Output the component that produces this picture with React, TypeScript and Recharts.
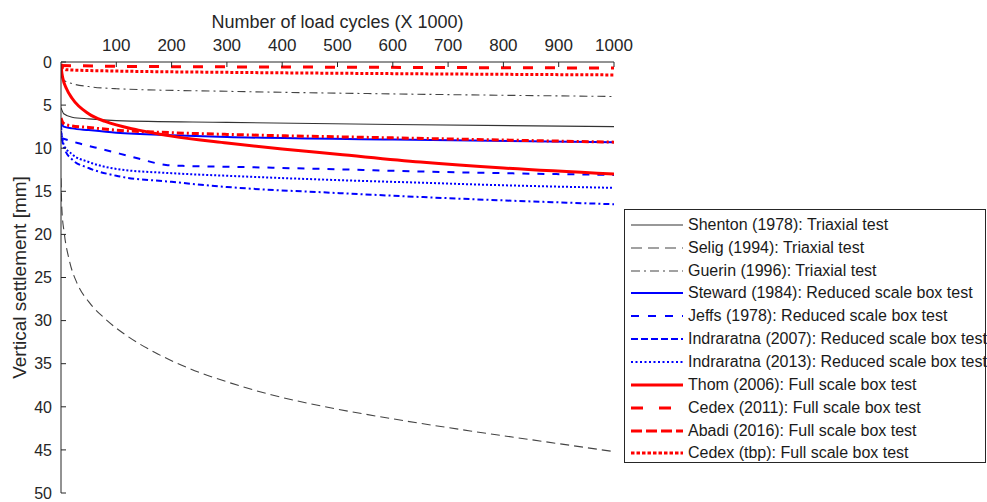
import React from 'react';
import { LineChart, Line, XAxis, YAxis, Legend } from 'recharts';

// Load cycles (x 1000) and vertical settlement (mm) for each study
const shentonCycles = [0, 5, 20, 50, 100, 300, 600, 1000];
const shentonSettlement = [5.3, 6.0, 6.4, 6.6, 6.8, 7.0, 7.25, 7.5];

const seligCycles = [0, 1.5, 6, 15, 30, 50, 80, 120, 170, 230, 300, 380, 470, 600, 740, 870, 1000];
const seligSettlement = [13.5, 17.0, 19.9, 23.0, 25.8, 27.8, 29.8, 31.8, 33.7, 35.5, 37.1, 38.6, 39.9, 41.4, 42.8, 44.0, 45.2];

const guerinCycles = [0, 5, 20, 50, 100, 300, 600, 1000];
const guerinSettlement = [1.6, 2.1, 2.5, 2.85, 3.1, 3.4, 3.7, 4.0];

const stewardCycles = [0, 5, 20, 50, 100, 200, 300, 600, 1000];
const stewardSettlement = [7.0, 7.5, 7.7, 7.9, 8.2, 8.5, 8.7, 9.0, 9.3];

const jeffsCycles = [0, 30, 80, 140, 190, 220, 300, 500, 650, 800, 1000];
const jeffsSettlement = [8.8, 9.4, 10.2, 11.2, 11.95, 12.05, 12.15, 12.45, 12.7, 12.9, 13.1];

const indraratna07Cycles = [0, 2, 6, 20, 50, 100, 200, 300, 500, 700, 1000];
const indraratna07Settlement = [7.2, 9.0, 10.0, 11.3, 12.3, 13.2, 13.9, 14.5, 15.2, 15.8, 16.5];

const indraratna13Cycles = [0, 5, 20, 50, 100, 200, 300, 500, 650, 800, 1000];
const indraratna13Settlement = [8.0, 9.6, 10.7, 11.6, 12.4, 12.9, 13.2, 13.7, 14.0, 14.3, 14.6];

const thomCycles = [0, 1, 3, 10, 20, 50, 80, 140, 200, 300, 400, 500, 650, 800, 1000];
const thomSettlement = [0.2, 1.0, 1.8, 3.1, 4.2, 6.0, 6.9, 7.9, 8.6, 9.4, 10.1, 10.7, 11.6, 12.3, 13.0];

const cedex11Cycles = [0, 100, 500, 1000];
const cedex11Settlement = [0.4, 0.5, 0.6, 0.7];

const abadiCycles = [0, 3, 10, 50, 100, 200, 300, 600, 1000];
const abadiSettlement = [6.5, 7.0, 7.3, 7.6, 7.9, 8.2, 8.4, 8.8, 9.3];

const cedexTbpCycles = [0, 10, 100, 300, 600, 1000];
const cedexTbpSettlement = [0.6, 0.9, 1.05, 1.2, 1.35, 1.5];

const xTicks = [100, 200, 300, 400, 500, 600, 700, 800, 900, 1000];
const yTicks = [0, 5, 10, 15, 20, 25, 30, 35, 40, 45, 50];

const toPoints = (cycles: number[], values: number[]) =>
  cycles.map((c, i) => ({ cycles: c, settlement: values[i] }));

const RED = '#ff0000';
const BLUE = '#0000ff';
const INK = '#262626';
const FONT = '"Liberation Sans", Arial, Helvetica, sans-serif';

const series = [
  { name: 'Shenton (1978): Triaxial test', data: toPoints(shentonCycles, shentonSettlement), color: '#333333', width: 1.1, dash: undefined, legendDash: undefined },
  { name: 'Selig (1994): Triaxial test', data: toPoints(seligCycles, seligSettlement), color: '#444444', width: 1.1, dash: '9 5', legendDash: '11 6' },
  { name: 'Guerin (1996): Triaxial test', data: toPoints(guerinCycles, guerinSettlement), color: '#444444', width: 1.1, dash: '8 4 2 4', legendDash: '9 4 2 4' },
  { name: 'Steward (1984): Reduced scale box test', data: toPoints(stewardCycles, stewardSettlement), color: BLUE, width: 2, dash: undefined, legendDash: undefined },
  { name: 'Jeffs (1978): Reduced scale box test', data: toPoints(jeffsCycles, jeffsSettlement), color: BLUE, width: 2, dash: '7 8', legendDash: '8 9' },
  { name: 'Indraratna (2007): Reduced scale box test', data: toPoints(indraratna07Cycles, indraratna07Settlement), color: BLUE, width: 2, dash: '6 3 2 3', legendDash: '7 3' },
  { name: 'Indraratna (2013): Reduced scale box test', data: toPoints(indraratna13Cycles, indraratna13Settlement), color: BLUE, width: 2, dash: '2 2', legendDash: '2 2.5' },
  { name: 'Thom (2006): Full scale box test', data: toPoints(thomCycles, thomSettlement), color: RED, width: 3, dash: undefined, legendDash: undefined },
  { name: 'Cedex (2011): Full scale box test', data: toPoints(cedex11Cycles, cedex11Settlement), color: RED, width: 3, dash: '10 12', legendDash: '12 16' },
  { name: 'Abadi (2016): Full scale box test', data: toPoints(abadiCycles, abadiSettlement), color: RED, width: 3, dash: '7 3 2 3', legendDash: '11 4' },
  { name: 'Cedex (tbp): Full scale box test', data: toPoints(cedexTbpCycles, cedexTbpSettlement), color: RED, width: 3, dash: '3 2', legendDash: '3.5 2' },
];

const PLOT_TOP = 62;
const PLOT_LEFT = 61;

const TopTick = (props: any) => {
  const { x, payload } = props;
  return (
    <g>
      <line x1={x} x2={x} y1={PLOT_TOP} y2={PLOT_TOP + 5} stroke={INK} strokeWidth={1} />
      <text x={x} y={51} textAnchor="middle" fontSize={17} fill={INK} fontFamily={FONT}>
        {payload.value}
      </text>
    </g>
  );
};

const LeftTick = (props: any) => {
  const { y, payload } = props;
  return (
    <g>
      <line x1={PLOT_LEFT} x2={PLOT_LEFT + 5} y1={y} y2={y} stroke={INK} strokeWidth={1} />
      <text x={52} y={y} dy="0.36em" textAnchor="end" fontSize={16} fill={INK} fontFamily={FONT}>
        {payload.value}
      </text>
    </g>
  );
};

const XTitle = (props: any) => {
  const { viewBox } = props;
  return (
    <text x={viewBox.x + viewBox.width / 2} y={28} textAnchor="middle" fontSize={18} fill={INK} fontFamily={FONT}>
      Number of load cycles (X 1000)
    </text>
  );
};

const YTitle = (props: any) => {
  const { viewBox } = props;
  const cy = viewBox.y + viewBox.height / 2;
  const bx = 25.5;
  return (
    <text
      x={bx}
      y={cy}
      transform={`rotate(-90, ${bx}, ${cy})`}
      textAnchor="middle"
      fontSize={19}
      fill={INK}
      fontFamily={FONT}
    >
      Vertical settlement [mm]
    </text>
  );
};

const LegendBox = () => (
  <div
    style={{
      boxSizing: 'border-box',
      width: 362,
      height: 254,
      border: `1px solid ${INK}`,
      background: '#fff',
      paddingTop: 3.5,
      fontFamily: FONT,
      fontSize: 16,
      color: '#1a1a1a',
    }}
  >
    {series.map((s) => (
      <div key={s.name} style={{ height: 22.85, display: 'flex', alignItems: 'center', whiteSpace: 'nowrap' }}>
        <svg width={63} height={22} style={{ flex: 'none' }}>
          <line
            x1={6}
            x2={58}
            y1={11}
            y2={11}
            stroke={s.color}
            strokeWidth={s.width}
            strokeDasharray={s.legendDash}
          />
        </svg>
        <span>{s.name}</span>
      </div>
    ))}
  </div>
);

export default function App() {
  return (
    <div style={{ position: 'absolute', left: 0, top: 0, background: '#fff' }}>
      <LineChart
        width={987}
        height={502}
        margin={{ top: 0, right: 373, bottom: 9, left: 0 }}
        style={{ fontFamily: FONT }}
      >
        <XAxis
          xAxisId={0}
          dataKey="cycles"
          type="number"
          orientation="top"
          domain={[0, 1000]}
          ticks={xTicks}
          height={62}
          allowDataOverflow
          axisLine={{ stroke: INK, strokeWidth: 1 }}
          tickLine={false}
          tick={<TopTick />}
          label={<XTitle />}
        />
        <YAxis
          yAxisId={0}
          type="number"
          domain={[0, 50]}
          reversed
          ticks={yTicks}
          width={PLOT_LEFT}
          allowDataOverflow
          axisLine={{ stroke: INK, strokeWidth: 1 }}
          tickLine={false}
          tick={<LeftTick />}
          label={<YTitle />}
        />
        <Legend
          layout="vertical"
          align="center"
          verticalAlign="middle"
          content={() => <LegendBox />}
          wrapperStyle={{ left: 624, top: 209, width: 362, height: 254 }}
        />
        {series.map((s) => (
          <Line
            key={s.name}
            name={s.name}
            data={s.data}
            dataKey="settlement"
            type="monotone"
            stroke={s.color}
            strokeWidth={s.width}
            strokeDasharray={s.dash}
            dot={false}
            activeDot={false}
            isAnimationActive={false}
          />
        ))}
      </LineChart>
    </div>
  );
}
